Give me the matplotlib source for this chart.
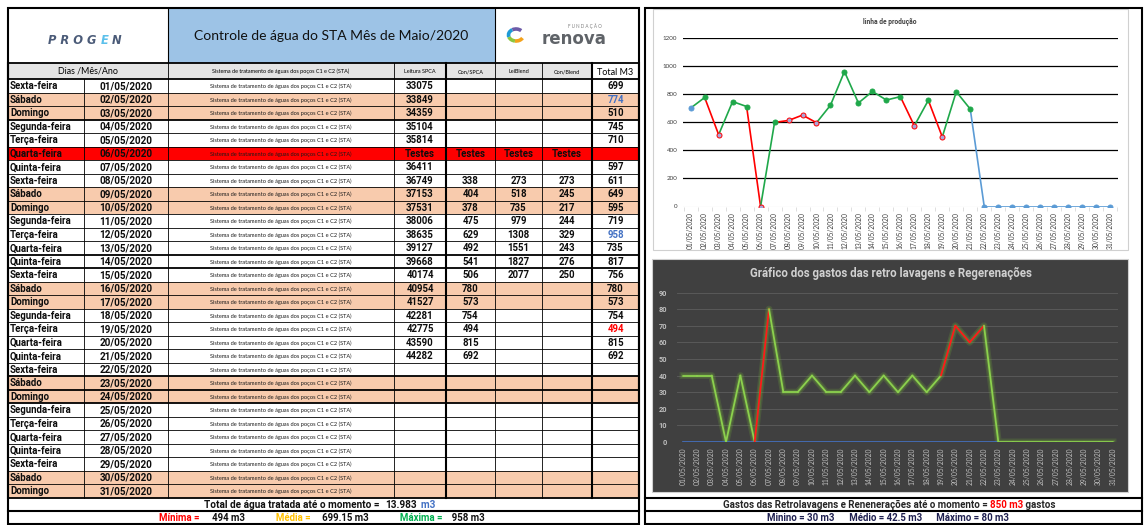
import matplotlib
matplotlib.use('Agg')
import matplotlib.pyplot as plt
from matplotlib.patches import Rectangle, Arc
from matplotlib.offsetbox import TextArea, HPacker, AnnotationBbox

plt.rcParams['font.family'] = ['Lato', 'DejaVu Sans']
BOLDF = ['Roboto', 'DejaVu Sans']

# ---------------- data ----------------
dias_semana = ['Sexta-feira', 'Sábado', 'Domingo', 'Segunda-feira', 'Terça-feira', 'Quarta-feira',
               'Quinta-feira', 'Sexta-feira', 'Sábado', 'Domingo', 'Segunda-feira', 'Terça-feira',
               'Quarta-feira', 'Quinta-feira', 'Sexta-feira', 'Sábado', 'Domingo', 'Segunda-feira',
               'Terça-feira', 'Quarta-feira', 'Quinta-feira', 'Sexta-feira', 'Sábado', 'Domingo',
               'Segunda-feira', 'Terça-feira', 'Quarta-feira', 'Quinta-feira', 'Sexta-feira',
               'Sábado', 'Domingo']
datas = ['01/05/2020', '02/05/2020', '03/05/2020', '04/05/2020', '05/05/2020', '06/05/2020',
         '07/05/2020', '08/05/2020', '09/05/2020', '10/05/2020', '11/05/2020', '12/05/2020',
         '13/05/2020', '14/05/2020', '15/05/2020', '16/05/2020', '17/05/2020', '18/05/2020',
         '19/05/2020', '20/05/2020', '21/05/2020', '22/05/2020', '23/05/2020', '24/05/2020',
         '25/05/2020', '26/05/2020', '27/05/2020', '28/05/2020', '29/05/2020', '30/05/2020',
         '31/05/2020']
sistema = 'Sistema de tratamento de águas dos poços C1 e C2 (STA)'
leitura_spca = [33075, 33849, 34359, 35104, 35814, 'Testes', 36411, 36749, 37153, 37531, 38006,
                38635, 39127, 39668, 40174, 40954, 41527, 42281, 42775, 43590, 44282,
                None, None, None, None, None, None, None, None, None, None]
con_spca = [None, None, None, None, None, 'Testes', None, 338, 404, 378, 475, 629, 492, 541, 506,
            780, 573, 754, 494, 815, 692, None, None, None, None, None, None, None, None, None, None]
lei_blend = [None, None, None, None, None, 'Testes', None, 273, 518, 735, 979, 1308, 1551, 1827,
             2077, None, None, None, None, None, None, None, None, None, None, None, None, None,
             None, None, None]
con_blend = [None, None, None, None, None, 'Testes', None, 273, 245, 217, 244, 329, 243, 276, 250,
             None, None, None, None, None, None, None, None, None, None, None, None, None, None,
             None, None]
total_m3 = [699, 774, 510, 745, 710, None, 597, 611, 649, 595, 719, 958, 735, 817, 756, 780, 573,
            754, 494, 815, 692, None, None, None, None, None, None, None, None, None, None]
total_cor = {1: '#4472C4', 11: '#4472C4', 18: '#FF0000'}

producao = [699, 774, 510, 745, 710, 0, 597, 611, 649, 595, 719, 958, 735, 817, 756, 780, 573,
            754, 494, 815, 692, 0, 0, 0, 0, 0, 0, 0, 0, 0, 0]
# segment colour (g = green, r = red, b = blue) for segment i -> i+1
seg_prod = ['g', 'r', 'g', 'g', 'r', 'g', 'r', 'r', 'r', 'g', 'g', 'g', 'g', 'g', 'g', 'r', 'g',
            'r', 'g', 'g', 'b', 'b', 'b', 'b', 'b', 'b', 'b', 'b', 'b', 'b']
mark_prod = ['b', 'g', 'r', 'g', 'g', 'r', 'g', 'r', 'r', 'r', 'g', 'g', 'g', 'g', 'g', 'g', 'r',
             'g', 'r', 'g', 'g', 'b', 'b', 'b', 'b', 'b', 'b', 'b', 'b', 'b', 'b']

gastos = [40, 40, 40, 0, 40, 0, 80, 30, 30, 40, 30, 30, 40, 30, 40, 30, 40, 30, 40, 70, 60, 70,
          0, 0, 0, 0, 0, 0, 0, 0, 0]
seg_gastos = ['g', 'g', 'g', 'g', 'g', 'r', 'g', 'g', 'g', 'g', 'g', 'g', 'g', 'g', 'g', 'g', 'g',
              'g', 'r', 'r', 'r', 'g', 'g', 'g', 'g', 'g', 'g', 'g', 'g', 'g']
serie_base = [0, 0, 0, 0, 0, 0, 0, 0, 0, 0, 0, 0, 0, 0, 0, 0, 0, 0, 0, 0, 0, 0, 0]

# ---------------- figure ----------------
W, H = 1144, 525
fig = plt.figure(figsize=(W / 100, H / 100), dpi=100)
fig.patch.set_facecolor('white')
bg = fig.add_axes([0, 0, 1, 1])
bg.set_xlim(0, W)
bg.set_ylim(H, 0)
bg.axis('off')

COLX = [8, 84, 168, 394, 446, 495, 542, 592, 639]
YT0, YT1 = 8, 63
YH1 = 79
RH = 13.5
YEND = YH1 + 31 * RH
YTOT = YEND + 13.5
YB = 524


def line_text(x, y, parts, fontsize=6.3, family=None, style='normal', weight='bold'):
    fam = family if family is not None else BOLDF
    boxes = [TextArea(t, textprops=dict(color=c, fontsize=fontsize, fontweight=weight,
                                        family=fam, fontstyle=style)) for t, c in parts]
    pk = HPacker(children=boxes, align='baseline', pad=0, sep=0)
    ab = AnnotationBbox(pk, (x, y), xycoords='data', frameon=False, box_alignment=(0.5, 0.5), pad=0)
    ab.set_zorder(5)
    bg.add_artist(ab)


# title row
bg.add_patch(Rectangle((COLX[2], YT0), COLX[5] - COLX[2], YT1 - YT0, fc='#9DC3E6', ec='none', zorder=0))
bg.text((COLX[2] + COLX[5]) / 2, (YT0 + YT1) / 2 + 1, 'Controle de água do STA Mês de Maio/2020',
        ha='center', va='center', fontsize=10, color='#111111')
# PROGEN logo
line_text(85, 40, [('P R O G ', '#4B5B78'), ('E', '#5BC0EB'), (' N', '#4B5B78')], fontsize=8.3,
          family=['DejaVu Sans'], style='italic')
# renova logo
for t1, t2, c in [(25, 100, '#F4A21B'), (100, 165, '#8CC63F'), (165, 235, '#1E9AD6'), (235, 320, '#6D5BA8')]:
    bg.add_patch(Arc((516, 35), 15, 12, theta1=t1, theta2=t2, color=c, lw=2.6, zorder=2))
bg.text(585, 26.5, 'F U N D A Ç Ã O', ha='center', va='center', fontsize=3.3, color='#808080')
bg.text(574, 39, 'renova', ha='center', va='center', fontsize=12, fontweight='bold',
        family=['DejaVu Sans'], color='#5F6368')

# header row
bg.add_patch(Rectangle((COLX[0], YT1), COLX[7] - COLX[0], YH1 - YT1, fc='#E4E4E4', ec='none', zorder=0))
hy = (YT1 + YH1) / 2 + 0.5
bg.text((COLX[0] + COLX[2]) / 2, hy, 'Dias /Mês/Ano', ha='center', va='center', fontsize=6.4)
bg.text((COLX[2] + COLX[3]) / 2, hy, sistema, ha='center', va='center', fontsize=4)
for k, lab in zip(range(3, 7), ['Leitura SPCA', 'Con/SPCA', 'LeiBlend', 'Con/Blend']):
    bg.text((COLX[k] + COLX[k + 1]) / 2, hy, lab, ha='center', va='center', fontsize=4)
bg.text((COLX[7] + COLX[8]) / 2, hy + 1, 'Total M3', ha='center', va='center', fontsize=6.5)


def fmt(v):
    return '' if v is None else str(v)


for i in range(31):
    top = YH1 + i * RH
    if leitura_spca[i] == 'Testes':
        fc = '#FF0000'
    elif dias_semana[i] in ('Sábado', 'Domingo'):
        fc = '#F8CBAD'
    else:
        fc = 'white'
    bg.add_patch(Rectangle((COLX[0], top), COLX[-1] - COLX[0], RH, fc=fc, ec='none', zorder=0))
    yc = top + RH / 2 + 0.5
    bg.text(COLX[0] + 2, yc, dias_semana[i], ha='left', va='center', fontsize=6.9, fontweight='bold',
            family=BOLDF, color='#0d0d0d')
    bg.text((COLX[1] + COLX[2]) / 2, yc, datas[i], ha='center', va='center', fontsize=7.1,
            fontweight='bold', family=BOLDF, color='#0d0d0d')
    bg.text((COLX[2] + COLX[3]) / 2, yc, sistema, ha='center', va='center', fontsize=4.1, color='#1a1a1a')
    for k, arr in zip(range(3, 7), [leitura_spca, con_spca, lei_blend, con_blend]):
        bg.text((COLX[k] + COLX[k + 1]) / 2, yc, fmt(arr[i]), ha='center', va='center', fontsize=6.9,
                fontweight='bold', family=BOLDF, color='#0d0d0d')
    bg.text((COLX[7] + COLX[8]) / 2, yc, fmt(total_m3[i]), ha='center', va='center', fontsize=6.9,
            fontweight='bold', family=BOLDF, color=total_cor.get(i, '#0d0d0d'))

# grid lines of table
for i in range(32):
    y = YH1 + i * RH
    thick = i in (0, 3, 13, 14, 22, 23, 24, 31)
    bg.plot([COLX[0], COLX[-1]], [y, y], color='black', lw=1.3 if thick else 0.6, zorder=3)
bg.plot([COLX[0], COLX[-1]], [YT1, YT1], color='black', lw=1.3, zorder=3)
bg.plot([COLX[0], COLX[-1]], [YTOT, YTOT], color='black', lw=1.5, zorder=3)
for k, xx in enumerate(COLX):
    lw = 1.5 if k in (0, 4, 7, 8) else 0.6
    ystart = YT1 if k != 1 else YH1
    bg.plot([xx, xx], [ystart, YEND], color='black', lw=lw, zorder=3)
for xx in (COLX[2], COLX[5]):
    bg.plot([xx, xx], [YT0, YT1], color='black', lw=0.8, zorder=3)
bg.add_patch(Rectangle((COLX[0], YT0), COLX[-1] - COLX[0], YB - YT0, fc='none', ec='black', lw=1.5, zorder=4))

valid_tot = [v for v in total_m3 if v is not None]
soma = sum(valid_tot)
media = soma / len(valid_tot)
line_text(320, (YEND + YTOT) / 2 + 0.5,
          [('Total de água tratada até o momento =  ', '#111111'),
           ('{:,}'.format(soma).replace(',', '.'), '#111111'), ('  m3', '#4472C4')], fontsize=7.2)
line_text(322, (YTOT + YB) / 2 + 0.5,
          [('Mínima =  ', '#FF0000'), ('   {} m3'.format(min(valid_tot)), '#111111'),
           ('             Média =  ', '#FFC000'), ('   {:.2f} m3'.format(media), '#111111'),
           ('             Máxima =  ', '#00B050'), ('  {} m3'.format(max(valid_tot)), '#111111')],
          fontsize=6.9)

# ---------------- right panel ----------------
bg.add_patch(Rectangle((645, YT0), 1142 - 645, YB - YT0, fc='none', ec='black', lw=1.5, zorder=4))
bg.add_patch(Rectangle((653, 9), 1128 - 653, 250 - 9, fc='white', ec='#D0D0D0', lw=0.8, zorder=1))
bg.add_patch(Rectangle((652, 259), 1128 - 652, 491.5 - 259, fc='#404040', ec='#D0D0D0', lw=0.8, zorder=1))
bg.plot([645, 1142], [YEND, YEND], color='black', lw=1.5, zorder=4)
bg.plot([645, 1142], [YTOT, YTOT], color='black', lw=1.5, zorder=4)

g_valid = [v for v in gastos if v > 0]
line_text(889, (YEND + YTOT) / 2 + 0.5,
          [('Gastos das Retrolavagens e Reneneraçōes até o momento = ', '#262626'),
           ('{} m3'.format(sum(gastos)), '#FF0000'), (' gastos', '#262626')], fontsize=7.0)
line_text(888, (YTOT + YB) / 2 + 0.5,
          [('Minino = {} m3'.format(min(g_valid)), '#1F2050'),
           ('      Médio = {} m3'.format(sum(g_valid) / len(g_valid)), '#1F2050'),
           ('      Máximo = {} m3'.format(max(g_valid)), '#1F2050')], fontsize=6.9)

CMAP = {'g': '#1FA84A', 'r': '#FF0000', 'b': '#5B9BD5'}

# top chart: linha de produção
ax1 = fig.add_axes([683 / W, 1 - 206.5 / H, (1118 - 683) / W, (206.5 - 37.5) / H])
ax1.set_facecolor('none')
ax1.set_xlim(-0.55, 30.57)
ax1.set_ylim(0, 1200)
for s in ax1.spines.values():
    s.set_visible(False)
ax1.axhline(0, color='#D9D9D9', lw=0.8, zorder=1)
for yv in range(200, 1201, 200):
    ax1.axhline(yv, color='black', lw=0.9, zorder=1)
x = list(range(len(producao)))
for i in range(len(producao) - 1):
    ax1.plot([x[i], x[i + 1]], [producao[i], producao[i + 1]], color=CMAP[seg_prod[i]], lw=1.2,
             solid_capstyle='round', zorder=2)
face = {'g': '#1FA84A', 'r': '#A9A6D8', 'b': '#5B9BD5'}
for i in range(len(producao)):
    ax1.plot(x[i], producao[i], 'o', ms=3.6, mfc=face[mark_prod[i]], mec=CMAP[mark_prod[i]], mew=0.7,
             zorder=3)
ax1.set_yticks(range(0, 1201, 200))
ax1.set_yticklabels([str(v) for v in range(0, 1201, 200)], fontsize=4.5, color='#404040')
ax1.set_xticks(x)
ax1.set_xticklabels(datas, rotation=90, fontsize=4.8, color='#404040')
ax1.tick_params(axis='both', length=0, pad=4)
ax1.set_xticks([v + 0.5 for v in range(-1, 31)], minor=True)
ax1.tick_params(axis='x', which='minor', length=3, color='#D9D9D9', width=0.6)
fig.text(890 / W, 1 - 21.5 / H, 'linha de produção', ha='center', va='center', fontsize=4.8,
         fontweight='bold', family=BOLDF, color='#404040')

# bottom chart: gastos
ax2 = fig.add_axes([677 / W, 1 - 442 / H, (1118 - 677) / W, (442 - 292.5) / H])
ax2.set_facecolor('none')
ax2.set_xlim(-0.42, 30.35)
ax2.set_ylim(0, 90)
for s in ax2.spines.values():
    s.set_visible(False)
for yv in range(0, 91, 10):
    ax2.axhline(yv, color='#595959', lw=0.7, zorder=1)
xg = list(range(len(gastos)))
ax2.plot(xg, gastos, color='#6FA83A', lw=5, alpha=0.22, zorder=2, solid_joinstyle='round')
ax2.plot(xg, gastos, color='#6FA83A', lw=3, alpha=0.3, zorder=2, solid_joinstyle='round')
ax2.plot(range(len(serie_base)), serie_base, color='#4472C4', lw=1.2, zorder=3)
GC = {'g': '#8CD14E', 'r': '#FF1A1A'}
for i in range(len(gastos) - 1):
    ax2.plot([xg[i], xg[i + 1]], [gastos[i], gastos[i + 1]], color=GC[seg_gastos[i]], lw=1.3,
             solid_capstyle='round', zorder=4)
ax2.set_yticks(range(0, 91, 10))
ax2.set_yticklabels([str(v) for v in range(0, 91, 10)], fontsize=5.3, color='#BFBFBF', fontweight='bold',
                    family=BOLDF)
ax2.set_xticks(xg)
ax2.set_xticklabels(datas, rotation=90, fontsize=4.9, color='#BFBFBF')
ax2.tick_params(axis='both', length=0, pad=4)
ax2.tick_params(axis='y', pad=7)
fig.text(891 / W, 1 - 273 / H, 'Gráfico dos gastos das retro lavagens e Regerenações', ha='center',
         va='center', fontsize=8.3, fontweight='bold', family=BOLDF, color='#D0D0D0')

fig.savefig('out.png', dpi=100)
